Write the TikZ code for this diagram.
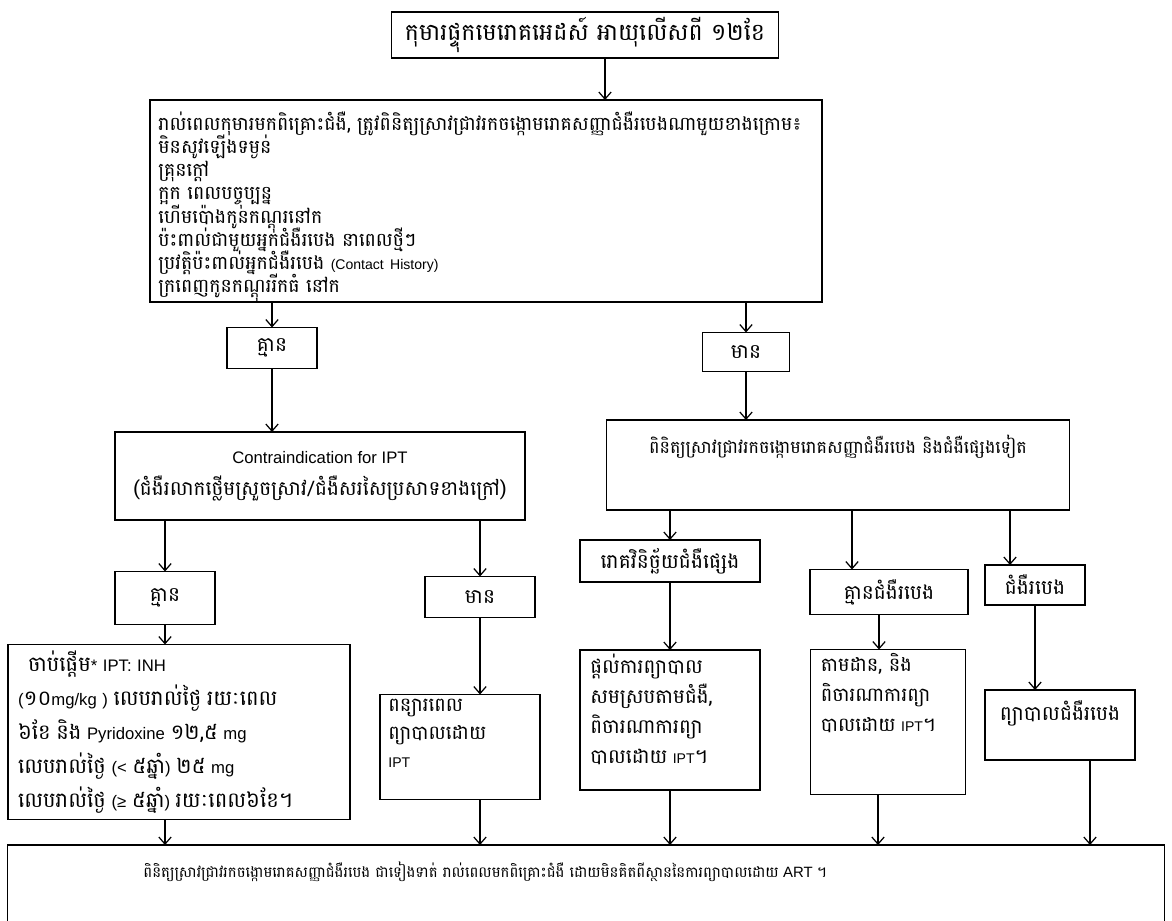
\documentclass[tikz,border=0pt]{standalone}
\usepackage{fontspec}
\setmainfont{Liberation Sans}
\newfontfamily\khm[Script=Khmer]{Battambang}
\newcommand\kh[1]{{\khm #1}}
\newcommand\lat[1]{{\fontsize{8}{10}\selectfont #1}}
\newcommand\khg[1]{{\fontsize{12}{14}\selectfont\khm #1}}
\newcommand\tight{\lineskiplimit=-\maxdimen}
\usetikzlibrary{arrows.meta, positioning}

\begin{document}
\begin{tikzpicture}[
x=0.02cm, y=-0.02cm,
>={Straight Barb[length=4pt,width=7pt]},
box/.style={draw, line width=0.7pt, inner sep=0pt, outer sep=0pt},
txt/.style={inner sep=0pt, align=left},
arr/.style={->, line width=0.7pt},
small/.style={font=\fontsize{11.5}{17}\selectfont}
]
\useasboundingbox (0,0) rectangle (1172,920);

% --- Haut ---
\node[box, minimum width=7.74cm, minimum height=0.92cm, font=\fontsize{13.5}{16}\selectfont]
  (titre) at (585,35) {\kh{កុមារផ្ទុកមេរោគអេដស៍ អាយុលើសពី ១២ខែ}};

\node[box, minimum width=13.44cm, minimum height=4.04cm] (depist) at (486,201) {};
\node[txt, text width=13.12cm, anchor=west, font=\fontsize{10.8}{13.2}\selectfont\tight]
  (depisttxt) at ([shift={(0.16cm,-0.12cm)}]depist.west) {%
\kh{រាល់ពេលកុមារមកពិគ្រោះជំងឺ, ត្រូវពិនិត្យស្រាវជ្រាវរកចង្កោមរោគសញ្ញាជំងឺរបេងណាមួយខាងក្រោម៖}\\
\kh{មិនសូវឡើងទម្ងន់}\\
\kh{គ្រុនក្តៅ}\\
\kh{ក្អក ពេលបច្ចុប្បន្ន}\\
\kh{ហើមប៉ោងកូនកណ្តុរនៅក}\\
\kh{ប៉ះពាល់ជាមួយអ្នកជំងឺរបេង នាពេលថ្មីៗ}\\
\kh{ប្រវត្តិប៉ះពាល់អ្នកជំងឺរបេង} \lat{(Contact History)}\\
\kh{ក្រពេញកូនកណ្តុររីកធំ នៅក}};

% --- Niveau 1 ---
\node[box, small, minimum width=1.8cm, minimum height=0.82cm] (non1) at (272,348) {\kh{គ្មាន}};
\node[box, small, minimum width=1.74cm, minimum height=0.78cm] (oui1) at (746,352) {\kh{មាន}};

\node[box, minimum width=8.2cm, minimum height=1.76cm, align=center,
  font=\fontsize{11.4}{18}\selectfont] (contre) at (320,476)
  {{\fontsize{9.5}{11}\selectfont Contraindication for IPT}\\ \kh{(ជំងឺរលាកថ្លើមស្រួចស្រាវ/ជំងឺសរសៃប្រសាទខាងក្រៅ)}};
\node[box, minimum width=9.26cm, minimum height=1.8cm] (examen) at (838,465) {};
\node[txt, font=\fontsize{10}{17}\selectfont] (examentxt) at ([yshift=-0.54cm]examen.north)
  {\kh{ពិនិត្យស្រាវជ្រាវរកចង្កោមរោគសញ្ញាជំងឺរបេង និងជំងឺផ្សេងទៀត}};

% --- Niveau 2 ---
\node[box, small, minimum width=2cm, minimum height=1.06cm] (non2) at (165,598) {\kh{គ្មាន}};
\node[box, small, minimum width=2.2cm, minimum height=0.82cm] (oui2) at (480,597) {\kh{មាន}};
\node[box, small, minimum width=3.6cm, minimum height=0.84cm] (autre) at (670,561) {\kh{រោគវិនិច្ឆ័យជំងឺផ្សេង}};
\node[box, small, minimum width=3.16cm, minimum height=0.9cm] (pastb) at (889,592) {\kh{គ្មានជំងឺរបេង}};
\node[box, small, minimum width=2cm, minimum height=0.8cm] (tb) at (1035,585) {\kh{ជំងឺរបេង}};

% --- Conduite a tenir ---
\node[box, inner xsep=0.2cm, inner ysep=0.05cm, text width=6.44cm, minimum height=3.5cm, align=left,
  font=\fontsize{9.5}{19.3}\selectfont\tight] (ipt) at (179,732) {%
\hspace{0.2cm}\khg{ចាប់ផ្តើម}* IPT: INH\\
(\khg{១០}mg/kg ) \khg{លេបរាល់ថ្ងៃ រយៈពេល}\\
\khg{៦ខែ និង} Pyridoxine \khg{១២,៥} mg\\
\khg{លេបរាល់ថ្ងៃ} (< \khg{៥ឆ្នាំ}) \khg{២៥} mg\\
\khg{លេបរាល់ថ្ងៃ} (≥ \khg{៥ឆ្នាំ}) \khg{រយៈពេល៦ខែ។}};

\node[box, minimum width=3.2cm, minimum height=2.1cm] (report) at (460,747) {};
\node[txt, font=\fontsize{11}{16}\selectfont, anchor=north west] (reporttxt)
  at ([shift={(0.16cm,-0.08cm)}]report.north west)
  {\kh{ពន្យារពេល}\\ \kh{ព្យាបាលដោយ}\\ \lat{IPT}};

\node[box, minimum width=3.6cm, minimum height=2.8cm] (soins) at (670,720) {};
\node[txt, font=\fontsize{11.3}{17}\selectfont, anchor=north west] (soinstxt)
  at ([shift={(0.2cm,-0.08cm)}]soins.north west)
  {\kh{ផ្តល់ការព្យាបាល}\\ \kh{សមស្របតាមជំងឺ,}\\ \kh{ពិចារណាការព្យា}\\ \kh{បាលដោយ} \lat{IPT}\kh{។}};

\node[box, minimum width=3.1cm, minimum height=2.9cm] (suivi) at (888,722) {};
\node[txt, font=\fontsize{11}{17}\selectfont, anchor=north west] (suivitxt)
  at ([shift={(0.2cm,-0.08cm)}]suivi.north west)
  {\kh{តាមដាន, និង}\\ \kh{ពិចារណាការព្យា}\\ \kh{បាលដោយ} \lat{IPT}\kh{។}};

\node[box, minimum width=3cm, minimum height=1.4cm] (traite) at (1060,725) {};
\node[txt, small] (traitetxt) at ([yshift=-0.46cm]traite.north) {\kh{ព្យាបាលជំងឺរបេង}};

% --- Bas ---
\node[box, minimum width=23.14cm, minimum height=1.6cm] (final) at (586,885) {};
\node[txt, font=\fontsize{8.5}{12}\selectfont, anchor=west] (finaltxt) at (143,872)
  {\kh{ពិនិត្យស្រាវជ្រាវរកចង្កោមរោគសញ្ញាជំងឺរបេង ជាទៀងទាត់ រាល់ពេលមកពិគ្រោះជំងឺ ដោយមិនគិតពីស្ថាននៃការព្យាបាលដោយ} ART \kh{។}};

% --- Fleches ---
\draw[arr] ([xshift=0.4cm]titre.south) -- ([xshift=0.4cm]titre.south |- depist.north);
\draw[arr] (depist.south -| non1.north) -- (non1.north);
\draw[arr] (depist.south -| oui1.north) -- (oui1.north);
\draw[arr] (non1.south) -- (non1.south |- contre.north);
\draw[arr] (oui1.south) -- (oui1.south |- examen.north);

\draw[arr] (contre.south -| non2.north) -- (non2.north);
\draw[arr] (contre.south -| oui2.north) -- (oui2.north);
\draw[arr] (examen.south -| autre.north) -- (autre.north);
\draw[arr] ([xshift=-0.74cm]examen.south -| pastb.north) -- ([xshift=-0.74cm]pastb.north);
\draw[arr] ([xshift=-0.5cm]examen.south -| tb.north) -- ([xshift=-0.5cm]tb.north);

\draw[arr] (non2.south) -- (non2.south |- ipt.north);
\draw[arr] (oui2.south) -- (oui2.south |- report.north);
\draw[arr] (autre.south) -- (autre.south |- soins.north);
\draw[arr] ([xshift=-0.2cm]pastb.south) -- ([xshift=-0.2cm]pastb.south |- suivi.north);
\draw[arr] (tb.south) -- (tb.south |- traite.north);

% vers la boite du bas
\draw[arr] (ipt.south -| non2.south) -- (final.north -| non2.south);
\draw[arr] (report.south -| oui2.south) -- (final.north -| oui2.south);
\draw[arr] (soins.south) -- (soins.south |- final.north);
\draw[arr] ([xshift=-0.2cm]suivi.south) -- ([xshift=-0.2cm]suivi.south |- final.north);
\draw[arr] ([xshift=0.6cm]traite.south) -- ([xshift=0.6cm]traite.south |- final.north);

\end{tikzpicture}
\end{document}
